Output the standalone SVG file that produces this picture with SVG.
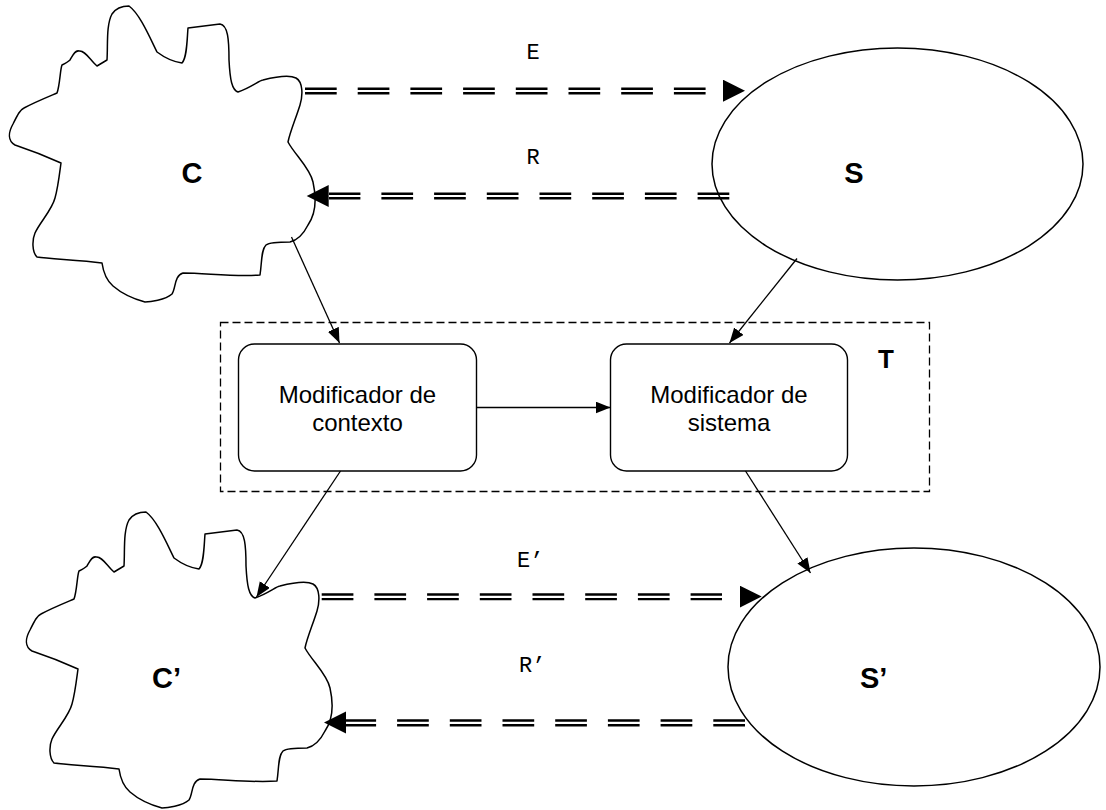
<svg xmlns="http://www.w3.org/2000/svg" xmlns:xlink="http://www.w3.org/1999/xlink" width="1106" height="810" viewBox="0 0 1106 810">
  <style>
    .outline { fill: #fff; stroke: #000; stroke-width: 1.5; stroke-linejoin: round; }
    .box { fill: #fff; stroke: #000; stroke-width: 1.4; }
    .frame { fill: none; stroke: #000; stroke-width: 1.3; stroke-dasharray: 8 4; }
    .link { fill: none; stroke: #000; stroke-width: 1.3; marker-end: url(#head); }
    .rail { stroke: #000; stroke-width: 2.4; stroke-dasharray: 31.7 21; fill: none; }
    .spine { stroke: none; fill: none; marker-end: url(#bighead); }
    .big { font-family: "Liberation Sans", Arial, sans-serif; font-weight: bold; font-size: 29px; fill: #000; }
    .tag { font-family: "Liberation Sans", Arial, sans-serif; font-weight: bold; font-size: 26px; fill: #000; }
    .label { font-family: "Liberation Sans", Arial, sans-serif; font-size: 24px; fill: #000; text-anchor: middle; }
    .mono { font-family: "Liberation Mono", "Courier New", monospace; font-size: 22px; fill: #000; }
  </style>
  <defs>
    <marker id="head" markerUnits="userSpaceOnUse" markerWidth="16" markerHeight="13" refX="15" refY="6" orient="auto">
      <path d="M0,0 L15,6 L0,12 Z" fill="#000"/>
    </marker>
    <marker id="bighead" markerUnits="userSpaceOnUse" markerWidth="23" markerHeight="23" refX="22" refY="11" orient="auto">
      <path d="M0,0 L22,11 L0,22 Z" fill="#000"/>
    </marker>
    <!-- irregular cloud outline for a context -->
    <path id="cloud" d="M129,6 C140,14 150,38 157,52 C165,58 175,62 182,63 C187,58 187,40 188,28 L220,24 C228,25 229,40 229,60 C230,80 232,90 238,92 C250,88 260,80 263,80 C275,77 290,75 296,78 C303,82 303,95 300,105 C296,118 290,132 288,142 C295,155 310,168 313,182 C317,200 315,215 308,225 C303,235 298,240 290,242 C280,242 270,242 266,245 C261,250 262,262 260,275 C235,277 205,273 183,273 C174,276 176,288 172,294 C165,300 150,302 145,302 C130,298 120,292 113,286 C106,280 103,270 102,263 C80,260 50,259 37,257 C32,252 32,240 35,233 C40,222 52,210 55,198 C58,188 60,170 61,163 C50,158 30,150 15,145 C8,141 8,133 13,124 C18,114 20,110 24,108 C35,102 50,96 57,93 C60,85 60,70 62,65 C66,63 68,62 70,60 C73,55 75,50 79,51 C85,50 90,60 97,66 L107,60 C108,45 106,25 112,14 C116,8 122,6 129,6 Z"/>
  </defs>

  <!-- context C -->
  <g id="node-C">
    <use xlink:href="#cloud" href="#cloud" class="outline"/>
    <text class="big" x="192" y="183" text-anchor="middle">C</text>
  </g>

  <!-- system S -->
  <g id="node-S">
    <ellipse class="outline" cx="897.5" cy="164" rx="185.5" ry="116"/>
    <text class="big" x="854" y="183" text-anchor="middle">S</text>
  </g>

  <!-- transformation T -->
  <g id="node-T">
    <rect class="frame" x="220.5" y="322.5" width="709" height="169"/>
    <text class="tag" x="886" y="368" text-anchor="middle">T</text>
  </g>

  <g id="node-mod-contexto">
    <rect class="box" x="238.5" y="344" width="238" height="127" rx="16" ry="16"/>
    <text class="label" x="357.5" y="403">Modificador de</text>
    <text class="label" x="357.5" y="431">contexto</text>
  </g>

  <g id="node-mod-sistema">
    <rect class="box" x="610.5" y="344" width="237" height="127" rx="16" ry="16"/>
    <text class="label" x="729" y="403">Modificador de</text>
    <text class="label" x="729" y="431">sistema</text>
  </g>

  <!-- context C' -->
  <g id="node-C2">
    <use xlink:href="#cloud" href="#cloud" class="outline" transform="translate(17,506)"/>
    <text class="big" x="152" y="688">C’</text>
  </g>

  <!-- system S' -->
  <g id="node-S2">
    <ellipse class="outline" cx="914" cy="667" rx="186" ry="119"/>
    <text class="big" x="860" y="688">S’</text>
  </g>

  <g id="connectors">
    <!-- E : C to S -->
    <g id="edge-E">
      <line class="rail" x1="305" y1="88.7" x2="706" y2="88.7"/>
      <line class="rail" x1="305" y1="93.3" x2="706" y2="93.3"/>
      <line class="spine" x1="305" y1="90.7" x2="745" y2="90.7"/>
      <text class="mono" x="533" y="59" text-anchor="middle">E</text>
    </g>
    <!-- R : S to C -->
    <g id="edge-R">
      <line class="rail" x1="729.3" y1="193.7" x2="329" y2="193.7"/>
      <line class="rail" x1="729.3" y1="198.3" x2="329" y2="198.3"/>
      <line class="spine" x1="729" y1="196" x2="306.7" y2="196"/>
      <text class="mono" x="533" y="164" text-anchor="middle">R</text>
    </g>
    <!-- E' : C' to S' -->
    <g id="edge-E2">
      <line class="rail" x1="321.7" y1="594.5" x2="722" y2="594.5"/>
      <line class="rail" x1="321.7" y1="599.1" x2="722" y2="599.1"/>
      <line class="spine" x1="321.7" y1="596.6" x2="761.7" y2="596.6"/>
      <text class="mono" x="517" y="567">E’</text>
    </g>
    <!-- R' : S' to C' -->
    <g id="edge-R2">
      <line class="rail" x1="745" y1="720.5" x2="345.7" y2="720.5"/>
      <line class="rail" x1="745" y1="725.3" x2="345.7" y2="725.3"/>
      <line class="spine" x1="745" y1="722.6" x2="324" y2="722.6"/>
      <text class="mono" x="519" y="672">R’</text>
    </g>

    <line class="link" x1="291.5" y1="237" x2="339.5" y2="343"/>
    <line class="link" x1="797" y1="258.5" x2="729.5" y2="343"/>
    <line class="link" x1="476.5" y1="407.5" x2="610.5" y2="407.5"/>
    <line class="link" x1="340.5" y1="471" x2="256.5" y2="597"/>
    <line class="link" x1="745.5" y1="471" x2="810.5" y2="573"/>
  </g>
</svg>
